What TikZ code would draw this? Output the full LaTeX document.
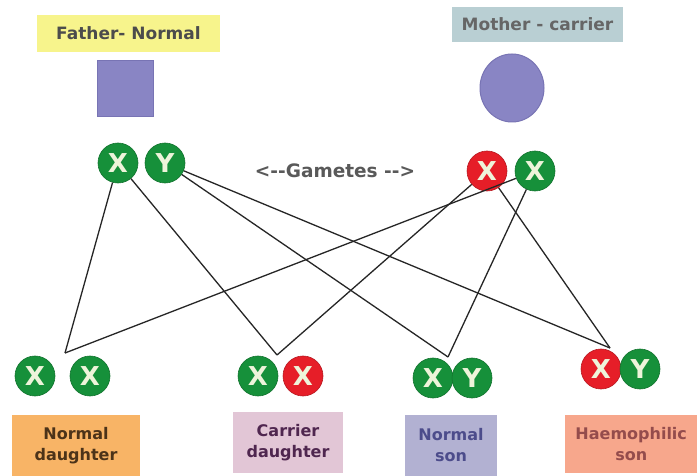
\documentclass[tikz,border=0pt]{standalone}
\usepackage{fontspec}
\setmainfont{DejaVu Sans}
\usetikzlibrary{shapes.geometric}
\definecolor{gamgreen}{HTML}{16903A}
\definecolor{gamred}{HTML}{E61E28}
\definecolor{letter}{HTML}{EEF4DA}
\definecolor{parent}{HTML}{8985C4}
\definecolor{parentedge}{HTML}{7874B4}
\definecolor{fathbg}{HTML}{F7F48C}
\definecolor{mothbg}{HTML}{B9CFD3}
\definecolor{ndbg}{HTML}{F8B466}
\definecolor{cdbg}{HTML}{E2C6D6}
\definecolor{nsbg}{HTML}{B2B1D2}
\definecolor{hsbg}{HTML}{F7A78C}
\tikzset{
  chrom/.style={circle, minimum size=40pt, inner sep=0pt, draw=#1!80!black, line width=0.6pt,
    fill=#1, text=letter, font=\fontsize{26}{26}\selectfont\bfseries},
  xg/.style={chrom=gamgreen},
  xr/.style={chrom=gamred},
  tag/.style={rectangle, inner sep=0pt, font=\fontsize{17}{17}\selectfont\bfseries},
  kid/.style={rectangle, inner sep=0pt, align=center,
    font=\fontsize{16}{21}\selectfont\bfseries},
  link/.style={draw=black!85, line width=1.3pt}
}
\begin{document}
\begin{tikzpicture}[x=1pt, y=-1pt]
\useasboundingbox (0,0) rectangle (697,476);
\fill[white] (0,0) rectangle (697,476);

% parents
\node[tag, fill=fathbg, text=black!70, minimum width=183pt, minimum height=37pt] (father) at (128.5,33.5) {Father- Normal};
\node[tag, fill=mothbg, text=black!60, minimum width=171pt, minimum height=35pt] (mother) at (537.5,24.5) {Mother - carrier};
\node[rectangle, fill=parent, draw=parentedge, line width=1pt, minimum size=56pt] (fsym) at (125.5,88.5) {};
\node[ellipse, fill=parent, draw=parentedge, line width=1pt, minimum width=64pt, minimum height=68pt] (msym) at (512,88) {};

% gametes
\node[xg] (fx) at (118,163) {X};
\node[xg] (fy) at (165,163) {Y};
\node[xr] (mx) at (487,171) {X};
\node[xg] (mxg) at (535,171) {X};
\node[font=\fontsize{18.5}{18.5}\selectfont\bfseries, text=black!65] (gam) at (335,171) {<-{}-Gametes -{}->};

% offspring
\node[xg] (nd1) at (35,376) {X};
\node[xg] (nd2) at (90,376) {X};
\node[xg] (cd1) at (258,376) {X};
\node[xr] (cd2) at (303,376) {X};
\node[xg] (ns1) at (433,378) {X};
\node[xg] (ns2) at (472,378) {Y};
\node[xr] (hs1) at (601,369) {X};
\node[xg] (hs2) at (640,369) {Y};

\node[kid, fill=ndbg, text=black!60!brown, minimum width=128pt, minimum height=61pt] (ndl) at (76,445.5) {Normal\\daughter};
\node[kid, fill=cdbg, text=black!55!violet!70!gray, minimum width=110pt, minimum height=61pt] (cdl) at (288,442.5) {Carrier\\daughter};
\node[kid, fill=nsbg, text=blue!35!black!70, minimum width=92pt, minimum height=61pt] (nsl) at (451,445.5) {Normal\\son};
\node[kid, fill=hsbg, text=red!40!black!70, minimum height=58pt, anchor=west, text width=132pt] (hsl) at (565,444) {Haemophilic\\son};

% crossing points above each pair
\coordinate (a1) at (65,353);
\coordinate (a2) at (277,355);
\coordinate (a3) at (448,357);
\coordinate (a4) at (610,348);

% gamete combinations
\draw[link] (fx) -- (a1);
\draw[link] (fx) -- (a2);
\draw[link] (fy) -- (a3);
\draw[link] (fy) -- (a4);
\draw[link] (mxg) -- (a1);
\draw[link] (mx) -- (a2);
\draw[link] (mxg) -- (a3);
\draw[link] (mx) -- (a4);
\end{tikzpicture}
\end{document}
